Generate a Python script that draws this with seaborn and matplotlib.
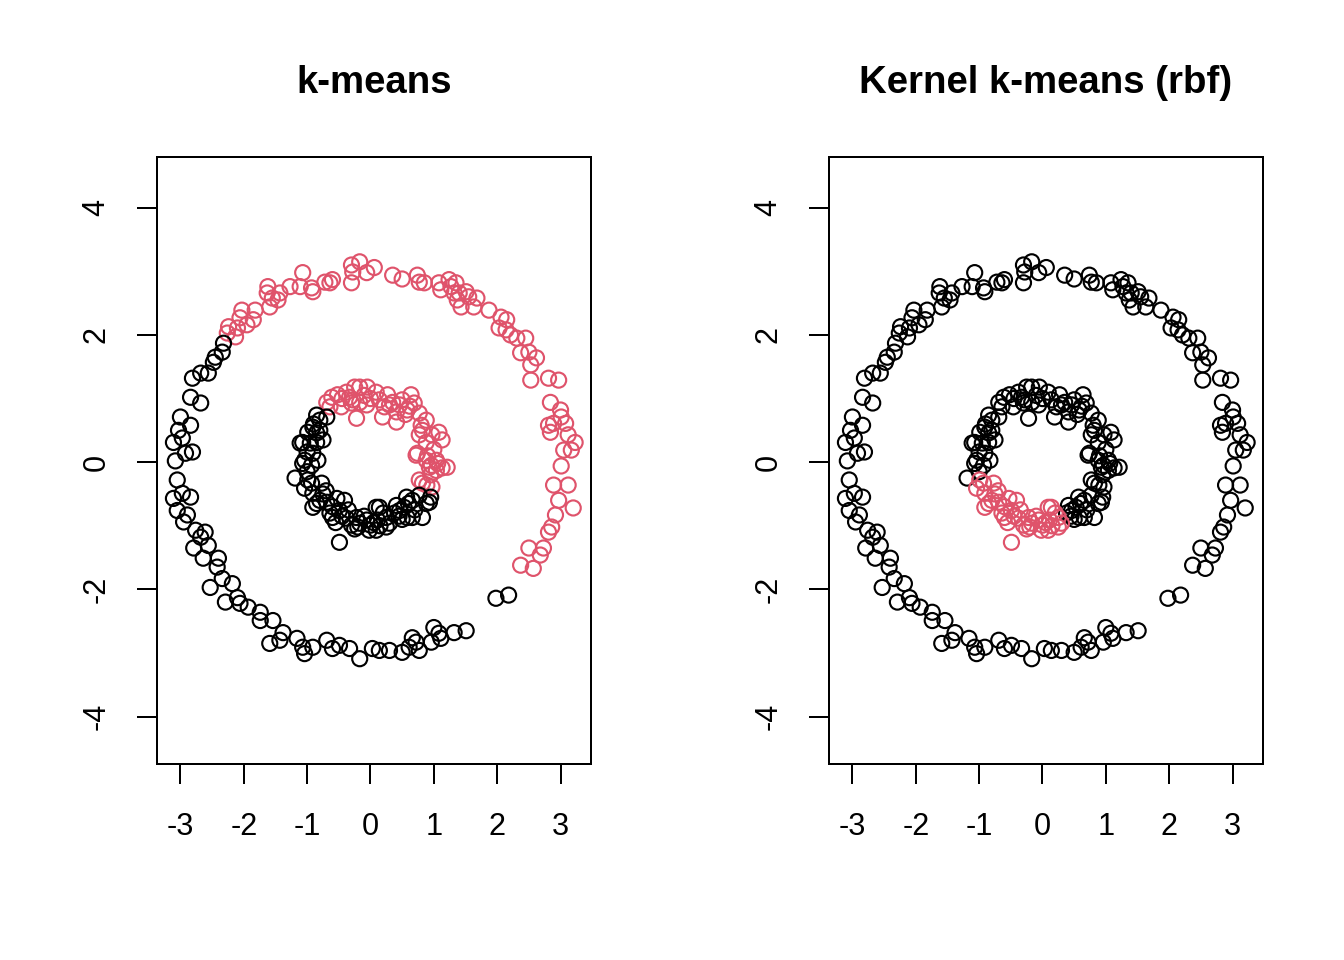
import pandas as pd
import seaborn as sns
import matplotlib.pyplot as plt

sns.set_theme(style="white")
plt.rcParams['font.family'] = ['Liberation Sans', 'DejaVu Sans']
plt.rcParams['axes.unicode_minus'] = False

# outer ring, red in k-means
outer_red_x = [-0.17, -0.30, -0.28, -0.06, -0.30, -0.60, -0.72, -0.64, -0.91, -0.93, -1.07, -1.11, -1.27, -1.43,
               -1.46, -1.55, -1.62, -1.63, -1.59, -1.82, -1.85, -2.03, -2.06, -1.95, -2.10, -2.24, -2.26, -2.13,
               0.06, 0.35, 0.50, 0.74, 0.77, 0.85, 1.08, 1.11, 1.24, 1.27, 1.35, 1.32, 1.40, 1.37, 1.43, 1.51,
               1.55, 1.63, 1.68, 1.87, 2.06, 2.03, 2.15, 2.14, 2.21, 2.31, 2.45, 2.37, 2.50, 2.62, 2.53, 2.53,
               2.81, 2.97, 2.84, 3.00, 3.01, 2.81, 2.89, 2.84, 3.08, 3.12, 3.23, 3.05, 3.17, 3.01, 2.89, 3.12,
               2.97, 3.20, 2.92, 2.86, 2.81, 2.73, 2.50, 2.68, 2.37, 2.57]
outer_red_y = [3.15, 3.10, 2.99, 2.98, 2.82, 2.87, 2.83, 2.82, 2.68, 2.74, 2.98, 2.76, 2.76, 2.66,
               2.55, 2.58, 2.76, 2.66, 2.44, 2.39, 2.24, 2.39, 2.27, 2.16, 2.11, 2.13, 2.03, 1.97,
               3.06, 2.94, 2.88, 2.94, 2.83, 2.82, 2.82, 2.71, 2.87, 2.76, 2.82, 2.66, 2.66, 2.55, 2.44, 2.68,
               2.60, 2.44, 2.58, 2.39, 2.28, 2.11, 2.24, 2.08, 2.00, 1.95, 1.95, 1.72, 1.73, 1.64, 1.53, 1.29,
               1.32, 1.29, 0.94, 0.82, 0.71, 0.58, 0.61, 0.47, 0.61, 0.43, 0.31, 0.19, 0.19, -0.06, -0.36, -0.36,
               -0.60, -0.72, -0.83, -1.02, -1.10, -1.35, -1.35, -1.46, -1.62, -1.67]

# outer ring, black in k-means
outer_black_x = [-2.32, -2.34, -2.45, -2.48, -2.56, -2.68, -2.81, -2.84, -2.68, -3.00, -2.84, -3.03, -2.97, -3.11,
                 -2.81, -2.92, -3.08, -3.05, -3.11, -2.97, -2.84, -3.05, -2.89, -2.95, -2.76, -2.61, -2.68, -2.79,
                 -2.56, -2.64, -2.40, -2.42, -2.53, -2.34, -2.18, -2.29, -2.10, -2.06, -1.93, -1.74, -1.74, -1.54,
                 -1.38, -1.43, -1.59, -1.16, -1.07, -0.91, -1.04, -0.69, -0.60, -0.49, -0.33, -0.17, 0.03, 0.14,
                 0.30, 0.50, 0.61, 0.77, 0.66, 0.72, 0.96, 1.00, 1.08, 1.11, 1.32, 1.51, 1.98, 2.18]
outer_black_y = [1.87, 1.73, 1.65, 1.57, 1.40, 1.40, 1.32, 1.02, 0.93, 0.71, 0.58, 0.50, 0.38, 0.31,
                 0.16, 0.14, 0.02, -0.28, -0.57, -0.49, -0.55, -0.76, -0.83, -0.94, -1.07, -1.10, -1.18, -1.35,
                 -1.31, -1.51, -1.51, -1.65, -1.97, -1.83, -1.91, -2.20, -2.13, -2.22, -2.28, -2.36, -2.49, -2.49,
                 -2.68, -2.80, -2.85, -2.77, -2.91, -2.91, -3.01, -2.80, -2.93, -2.88, -2.93, -3.09, -2.93, -2.96,
                 -2.96, -2.99, -2.91, -2.96, -2.76, -2.83, -2.83, -2.60, -2.69, -2.77, -2.68, -2.65, -2.14, -2.09]

# inner ring, red in k-means
inner_red_x = [-0.69, -0.61, -0.52, -0.38, -0.33, -0.25, -0.30, -0.17, -0.22, -0.05, -0.06, 0.09, 0.14, 0.22,
               0.19, 0.27, 0.35, 0.41, 0.41, 0.50, 0.58, 0.64, 0.69, 0.77, 0.80, 0.88, 0.77, 0.88, 0.97, 1.08,
               1.13, 0.72, 0.88, 0.96, 1.04, 1.13, 1.21, 1.04, 0.77, 0.89, -0.46, -0.64, -0.17, -0.28, 0.46,
               0.82, 0.93, 0.82, 0.97, 0.74, -0.45, 0.00, 0.55, 0.30, 0.90, 1.00, -0.10, 0.62, 1.06, 0.95]
inner_red_y = [0.94, 1.02, 1.06, 1.10, 1.02, 1.18, 0.93, 0.94, 0.69, 1.18, 0.90, 1.10, 0.98, 0.87,
               0.71, 1.06, 0.94, 0.79, 0.63, 0.98, 0.82, 1.06, 0.93, 0.77, 0.58, 0.66, 0.43, 0.31, 0.43, 0.47,
               0.35, 0.11, 0.03, -0.05, -0.13, -0.09, -0.08, 0.03, -0.28, -0.36, 0.87, 0.87, 1.18, 0.98, 0.90,
               0.50, -0.08, -0.33, -0.39, 0.14, 1.00, 1.00, 0.75, 0.90, 0.10, 0.20, 1.05, 0.88, -0.02, -0.20]

# inner ring, black in both methods
inner_black_x = [-0.69, -0.80, -0.91, -0.85, -0.75, -1.07, -1.00, -0.91, -1.04, -0.93, -0.83, -1.19, -0.85, -0.99,
                 -1.11, -0.85, -1.07, 0.38, 0.41, 0.53, 0.58, 0.66, 0.77, 0.88, 0.93, 0.82, 0.57, 0.66, 0.46,
                 -0.95, -0.80, -1.00, -0.90, 0.45, 0.60, 0.70, 0.50, 0.95]
inner_black_y = [0.71, 0.66, 0.55, 0.46, 0.35, 0.31, 0.16, 0.14, 0.03, -0.05, 0.03, -0.25, 0.74, 0.47,
                 0.30, 0.31, -0.02, -0.80, -0.68, -0.71, -0.87, -0.60, -0.52, -0.65, -0.63, -0.87, -0.55, -0.87, -0.76,
                 0.30, 0.50, -0.15, 0.60, -0.85, -0.65, -0.75, -0.90, -0.55]

# inner ring, black in k-means but red in kernel k-means
inner_split_x = [-0.93, -0.77, -0.91, -0.85, -0.69, -0.64, -0.53, -0.49, -0.38, -0.41, -0.22, -0.20, -0.06, -0.02,
                 0.09, 0.11, 0.25, 0.25, -0.49, -0.91, -0.60, -0.17, 0.30, 0.14, 0.09, -0.30, 0.00, -0.99, -1.04,
                 -0.75, -0.60, -0.45, -0.35, -0.10, 0.05, 0.20, -0.55, -0.25, 0.15, -0.80, -0.70]
inner_split_y = [-0.33, -0.33, -0.49, -0.65, -0.63, -0.80, -0.57, -0.76, -0.88, -0.60, -0.87, -1.02, -0.91, -1.07,
                 -0.71, -0.91, -0.87, -1.02, -1.26, -0.71, -0.87, -0.96, -0.96, -0.71, -1.07, -0.99, -0.99, -0.28, -0.41,
                 -0.50, -0.70, -0.85, -0.75, -0.85, -0.95, -0.80, -0.95, -1.05, -1.00, -0.60, -0.45]

groups = [
    (outer_red_x, outer_red_y, 2, 1),
    (outer_black_x, outer_black_y, 1, 1),
    (inner_red_x, inner_red_y, 2, 1),
    (inner_black_x, inner_black_y, 1, 1),
    (inner_split_x, inner_split_y, 1, 2),
]
frames = []
for gx, gy, km, kkm in groups:
    frames.append(pd.DataFrame({'x': gx, 'y': gy, 'km': km, 'kkm': kkm}))
df = pd.concat(frames, ignore_index=True)

palette = {1: 'black', 2: '#DF536B'}

fig = plt.figure(figsize=(7, 5), dpi=192)
ax1 = fig.add_axes([0.1168, 0.2042, 0.3229, 0.6320])
ax2 = fig.add_axes([0.6168, 0.2042, 0.3229, 0.6320])

for ax, col, title in [(ax1, 'km', 'k-means'), (ax2, 'kkm', 'Kernel k-means (rbf)')]:
    sns.scatterplot(data=df, x='x', y='y', hue=col, palette=palette, ax=ax,
                    legend=False, s=32, linewidth=0.8, marker='o')
    pts = ax.collections[0]
    pts.set_edgecolors(pts.get_facecolors())
    pts.set_facecolor('none')
    ax.set_xlim(-3.37, 3.48)
    ax.set_ylim(-4.745, 4.794)
    ax.set_xticks([-3, -2, -1, 0, 1, 2, 3])
    ax.set_yticks([-4, -2, 0, 2, 4])
    ax.set_xlabel('')
    ax.set_ylabel('')
    ax.set_title(title, fontsize=14.4, fontweight='bold', pad=24, color='black')
    ax.tick_params(direction='out', length=7.5, width=0.75, color='black',
                   labelsize=11.5, labelcolor='black', bottom=True, left=True)
    ax.tick_params(axis='x', pad=10.5)
    ax.tick_params(axis='y', pad=9.5)
    for lab in ax.get_yticklabels():
        lab.set_rotation(90)
        lab.set_va('center')
    for sp in ax.spines.values():
        sp.set_color('black')
        sp.set_linewidth(0.75)

fig.savefig('out.png', dpi=192, facecolor='white')
